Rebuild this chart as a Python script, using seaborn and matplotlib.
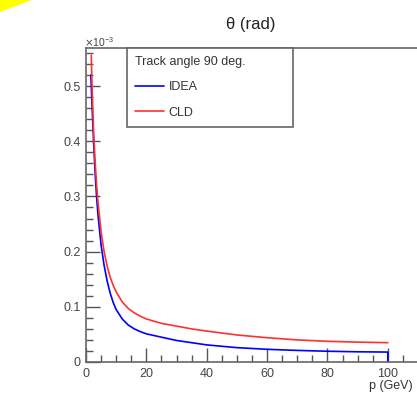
import numpy as np
import pandas as pd
import seaborn as sns
import matplotlib.pyplot as plt
from matplotlib.patches import Polygon
from matplotlib.ticker import MultipleLocator

# valores (theta en unidades de 1e-3 rad)
p_idea = [1.6, 2, 2.5, 3, 3.5, 4, 5, 6, 7, 8, 9, 10, 12, 14, 16, 18, 20,
          25, 30, 35, 40, 50, 60, 70, 80, 90, 100, 100]
theta_idea = [0.52, 0.465, 0.40, 0.345, 0.30, 0.265, 0.212, 0.175, 0.147, 0.125,
              0.108, 0.095, 0.078, 0.067, 0.060, 0.055, 0.051, 0.045, 0.039,
              0.035, 0.031, 0.026, 0.023, 0.021, 0.0195, 0.0185, 0.018, 0.0]

p_cld = [1.75, 2, 2.5, 3, 3.5, 4, 5, 6, 7, 8, 9, 10, 12, 14, 16, 18, 20,
         25, 30, 35, 40, 50, 60, 70, 80, 90, 100]
theta_cld = [0.556, 0.50, 0.42, 0.365, 0.322, 0.288, 0.236, 0.200, 0.174, 0.154,
             0.139, 0.127, 0.109, 0.097, 0.089, 0.083, 0.078, 0.070, 0.065,
             0.060, 0.056, 0.049, 0.044, 0.040, 0.0375, 0.036, 0.035]

data = pd.concat([
    pd.DataFrame({'p': p_idea, 'theta': theta_idea, 'det': 'IDEA'}),
    pd.DataFrame({'p': p_cld, 'theta': theta_cld, 'det': 'CLD'}),
], ignore_index=True)

sns.set_style('ticks')
plt.rcParams['font.family'] = ['Liberation Sans', 'DejaVu Sans']

W, H = 417, 394
fig = plt.figure(figsize=(W / 100, H / 100), dpi=100)
ax = fig.add_axes([86 / W, 32 / H, 332 / W, 314 / H])

sns.lineplot(data=data, x='p', y='theta', hue='det', palette={'IDEA': '#0000ff', 'CLD': '#ff3030'},
             sort=False, estimator=None, lw=1.2, ax=ax)

ax.set_xlim(0, 110)
ax.set_ylim(0, 0.569)
ax.xaxis.set_major_locator(MultipleLocator(20))
ax.xaxis.set_minor_locator(MultipleLocator(5))
ax.yaxis.set_major_locator(MultipleLocator(0.1))
ax.yaxis.set_minor_locator(MultipleLocator(0.02))
ax.set_yticks([0, 0.1, 0.2, 0.3, 0.4, 0.5], ['0', '0.1', '0.2', '0.3', '0.4', '0.5'])
ax.tick_params(which='major', direction='in', length=10, width=1, color='#555555',
               labelsize=9, labelcolor='#444444', pad=4)
ax.tick_params(which='minor', direction='in', length=5, width=1, color='#555555')
ax.set_xlabel('')
ax.set_ylabel('')
for s in ax.spines.values():
    s.set_color('#666666')
    s.set_linewidth(1.2)

leg = ax.legend(title='Track angle 90 deg.', loc='upper left', bbox_to_anchor=(0.1235, 0.7516, 0.5, 0.2484),
                mode='expand', borderaxespad=0, fancybox=False, edgecolor='#666666', framealpha=1,
                fontsize=9, title_fontsize=9, handlelength=2.3, handletextpad=0.4,
                labelspacing=1.08, borderpad=0.62, alignment='left')
leg.get_frame().set_linewidth(1.2)
for t in leg.get_texts():
    t.set_color('#333333')
leg.get_title().set_color('#333333')

fig.text(251 / W, 1 - 24 / H, 'θ (rad)', ha='center', va='center', fontsize=12, color='#222222')
fig.text(84 / W, 1 - 42 / H, r'$\times\mathregular{10^{-3}}$', ha='left', va='center', fontsize=7.5, color='#444444')
fig.text(369 / W, 1 - 386 / H, 'p (GeV)', ha='left', va='center', fontsize=9, color='#333333')

fig.patches.append(Polygon([[0, 1], [32 / W, 1], [0, 1 - 12 / H]], closed=True,
                           transform=fig.transFigure, facecolor='#ffff00', edgecolor='none'))

fig.savefig('out.png', dpi=100)
